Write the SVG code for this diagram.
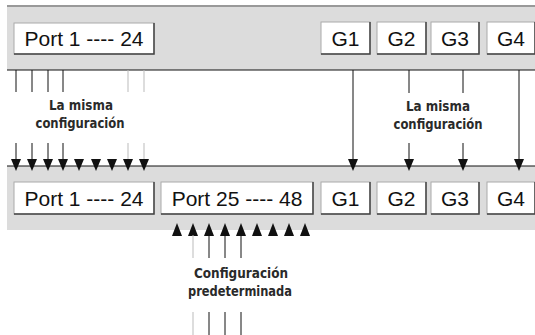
<svg xmlns="http://www.w3.org/2000/svg" width="535" height="335" viewBox="0 0 535 335">
<defs>
<style>
.band{fill:#dcdcdc}
.box rect{fill:#fff;stroke:#aaa;stroke-width:1}
.box path{fill:none;stroke:#444;stroke-width:1.5}
.port{font-family:"Liberation Sans",Arial,sans-serif;font-size:21px;fill:#111;text-anchor:middle}
.lbl{font-family:"DejaVu Sans Condensed","DejaVu Sans",sans-serif;font-weight:bold;font-size:14px;fill:#2a2a2a;text-anchor:middle}
.ln{stroke:#111;stroke-width:1}
.lt{stroke:#bbb;stroke-width:1}
.hd{fill:#111}
</style>
<path id="dn" d="M-5,159 L5,159 L0,171 Z"/>
<path id="up" d="M-5,236 L5,236 L0,223 Z"/>
</defs>
<rect class="band" x="7" y="6" width="528" height="64"/>
<line x1="7" y1="6" x2="535" y2="6" stroke="#999" stroke-width="2"/>
<rect class="band" x="7" y="166" width="528" height="64"/>
<g id="connectors">
<line class="ln" x1="7" y1="70" x2="535" y2="70"/>
<line class="ln" x1="7" y1="166" x2="535" y2="166"/>
<g>
<line class="ln" x1="16" y1="70" x2="16" y2="92"/><line class="ln" x1="32" y1="70" x2="32" y2="92"/>
<line class="ln" x1="48" y1="70" x2="48" y2="92"/><line class="ln" x1="63" y1="70" x2="63" y2="92"/>
<line class="lt" x1="128" y1="70" x2="128" y2="92"/><line class="lt" x1="144" y1="70" x2="144" y2="92"/>
<line class="ln" x1="16" y1="143" x2="16" y2="160"/><line class="ln" x1="32" y1="143" x2="32" y2="160"/>
<line class="ln" x1="48" y1="143" x2="48" y2="160"/><line class="ln" x1="63" y1="143" x2="63" y2="160"/>
<line class="lt" x1="128" y1="143" x2="128" y2="160"/><line class="lt" x1="144" y1="143" x2="144" y2="160"/>
<use href="#dn" class="hd" x="16"/><use href="#dn" class="hd" x="32"/><use href="#dn" class="hd" x="48"/>
<use href="#dn" class="hd" x="63"/><use href="#dn" class="hd" x="79"/><use href="#dn" class="hd" x="96"/>
<use href="#dn" class="hd" x="112"/><use href="#dn" class="hd" x="128"/><use href="#dn" class="hd" x="144"/>
</g>
<g>
<line class="ln" x1="353" y1="70" x2="353" y2="160"/>
<line class="ln" x1="409" y1="70" x2="409" y2="93"/><line class="ln" x1="409" y1="143" x2="409" y2="160"/>
<line class="ln" x1="463" y1="70" x2="463" y2="93"/><line class="ln" x1="463" y1="143" x2="463" y2="160"/>
<line class="ln" x1="519" y1="70" x2="519" y2="160"/>
<use href="#dn" class="hd" x="353"/><use href="#dn" class="hd" x="409"/>
<use href="#dn" class="hd" x="463"/><use href="#dn" class="hd" x="519"/>
</g>
<g>
<use href="#up" class="hd" x="177"/><use href="#up" class="hd" x="193"/><use href="#up" class="hd" x="209"/>
<use href="#up" class="hd" x="225"/><use href="#up" class="hd" x="241"/><use href="#up" class="hd" x="257"/>
<use href="#up" class="hd" x="273"/><use href="#up" class="hd" x="289"/><use href="#up" class="hd" x="305"/>
<line class="lt" x1="193" y1="235" x2="193" y2="258"/><line class="ln" x1="209" y1="235" x2="209" y2="258"/>
<line class="ln" x1="225" y1="235" x2="225" y2="258"/><line class="ln" x1="241" y1="235" x2="241" y2="258"/>
<line class="lt" x1="193" y1="312" x2="193" y2="335"/><line class="ln" x1="209" y1="312" x2="209" y2="335"/>
<line class="ln" x1="225" y1="312" x2="225" y2="335"/><line class="ln" x1="241" y1="312" x2="241" y2="335"/>
</g>
</g>
<g id="top-port" class="box"><rect x="14" y="23" width="140" height="31"/><path d="M154,23 V54 H14"/><text class="port" x="84" y="46">Port 1 ---- 24</text></g>
<g id="top-g1" class="box"><rect x="321" y="22" width="49" height="32"/><path d="M370,22 V54 H321"/><text class="port" x="345.5" y="46">G1</text></g>
<g id="top-g2" class="box"><rect x="377" y="22" width="49" height="32"/><path d="M426,22 V54 H377"/><text class="port" x="401.5" y="46">G2</text></g>
<g id="top-g3" class="box"><rect x="431" y="22" width="48" height="32"/><path d="M479,22 V54 H431"/><text class="port" x="455" y="46">G3</text></g>
<g id="top-g4" class="box"><rect x="487" y="22" width="48" height="32"/><path d="M535,22 V54 H487"/><text class="port" x="511" y="46">G4</text></g>
<g id="bot-port1" class="box"><rect x="14" y="182" width="140" height="32"/><path d="M154,182 V214 H14"/><text class="port" x="84" y="206">Port 1 ---- 24</text></g>
<g id="bot-port25" class="box"><rect x="161" y="182" width="152" height="32"/><path d="M313,182 V214 H161"/><text class="port" x="237" y="206">Port 25 ---- 48</text></g>
<g id="bot-g1" class="box"><rect x="321" y="182" width="49" height="32"/><path d="M370,182 V214 H321"/><text class="port" x="345.5" y="206">G1</text></g>
<g id="bot-g2" class="box"><rect x="377" y="182" width="49" height="32"/><path d="M426,182 V214 H377"/><text class="port" x="401.5" y="206">G2</text></g>
<g id="bot-g3" class="box"><rect x="431" y="182" width="48" height="32"/><path d="M479,182 V214 H431"/><text class="port" x="455" y="206">G3</text></g>
<g id="bot-g4" class="box"><rect x="487" y="182" width="48" height="32"/><path d="M535,182 V214 H487"/><text class="port" x="511" y="206">G4</text></g>
<g id="label-left"><text class="lbl" x="81" y="110" textLength="64" lengthAdjust="spacingAndGlyphs">La misma</text><text class="lbl" x="80" y="128" textLength="89" lengthAdjust="spacingAndGlyphs">configuración</text></g>
<g id="label-right"><text class="lbl" x="438" y="111" textLength="64" lengthAdjust="spacingAndGlyphs">La misma</text><text class="lbl" x="438" y="129" textLength="89" lengthAdjust="spacingAndGlyphs">configuración</text></g>
<g id="label-bottom"><text class="lbl" x="241" y="278" textLength="94" lengthAdjust="spacingAndGlyphs">Configuración</text><text class="lbl" x="240" y="296" textLength="104" lengthAdjust="spacingAndGlyphs">predeterminada</text></g>
</svg>
